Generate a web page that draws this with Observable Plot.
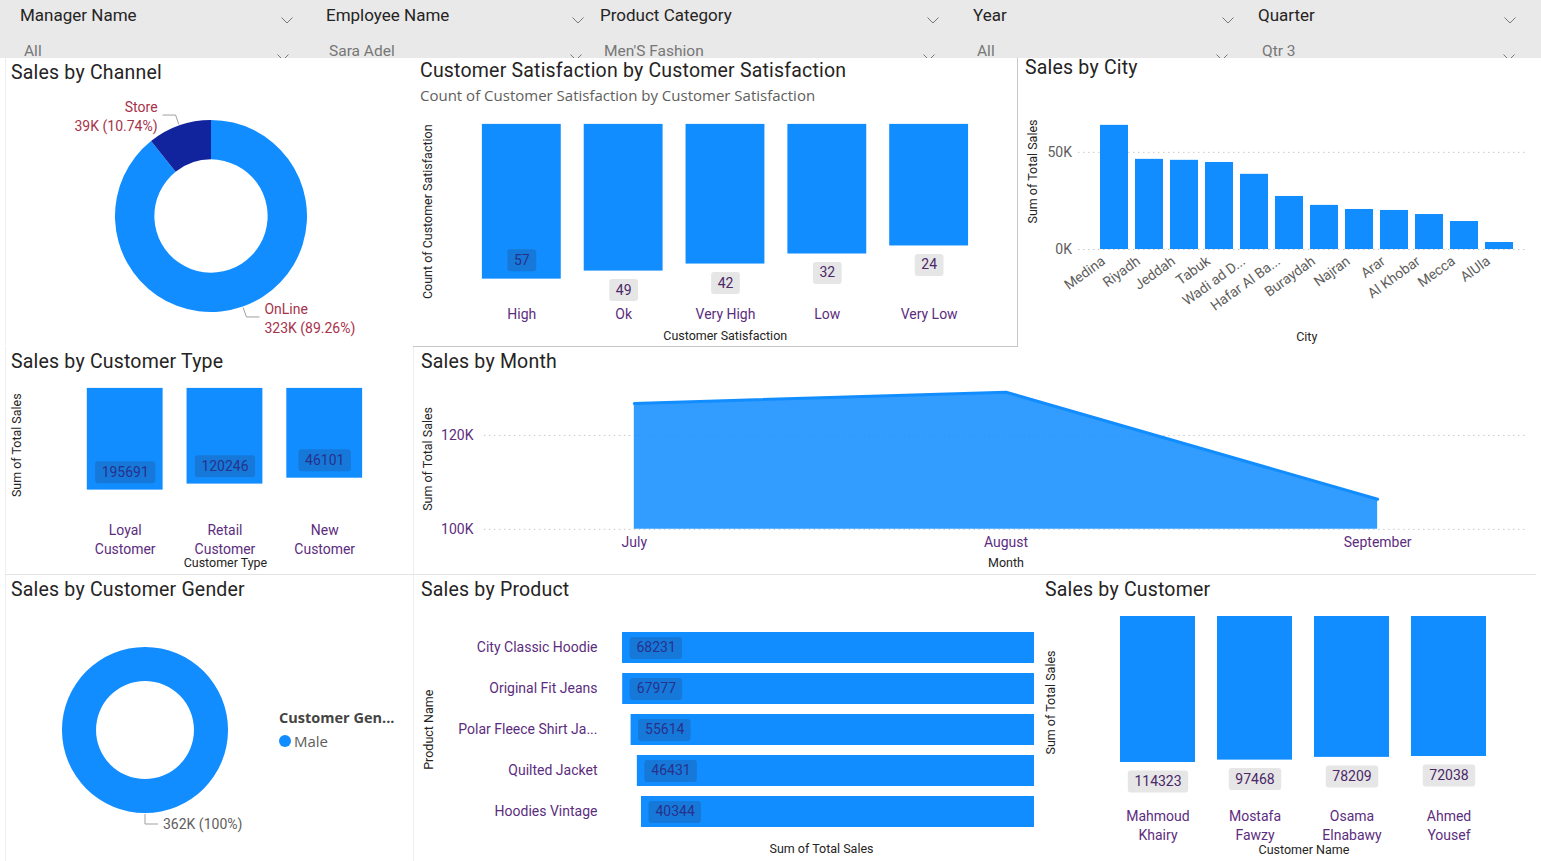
<!DOCTYPE html>
<html><head><meta charset="utf-8">
<script src="https://cdn.jsdelivr.net/npm/d3@7"></script>
<script src="https://cdn.jsdelivr.net/npm/@observablehq/plot@0.6"></script>
<style>
body{margin:0;width:1541px;height:861px;background:#fff;font-family:Roboto,sans-serif;overflow:hidden;position:relative}
.bar{position:absolute;left:0;top:0;width:1541px;height:58px;background:#e9e9e9}
.fh{position:absolute;font-size:17px;color:#252423;line-height:17px;white-space:nowrap}
.fv{position:absolute;font-size:15.5px;color:#777;line-height:15px;white-space:nowrap}
.chev{position:absolute;width:12px;height:7px}
.panel{position:absolute;background:#fff}
.panel svg{position:absolute;left:0;top:0;overflow:visible}
.title{position:absolute;font-size:19.5px;line-height:19px;color:#252423;white-space:nowrap;z-index:2;letter-spacing:0.2px}
.sub{position:absolute;font-size:15px;line-height:15px;color:#605e5c;white-space:nowrap;z-index:2;font-family:"Open Sans"}
</style>
</head><body>
<div class="bar"></div>
<script>
// ---------- data ----------
const filterNames = ["Manager Name", "Employee Name", "Product Category", "Year", "Quarter"];
const filterValues = ["All", "Sara Adel", "Men'S Fashion", "All", "Qtr 3"];

const channelNames = ["OnLine", "Store"];
const channelSales = [323100, 38880];

const satLevels = ["High", "Ok", "Very High", "Low", "Very Low"];
const satCounts = [57, 49, 42, 32, 24];

const cities = ["Medina", "Riyadh", "Jeddah", "Tabuk", "Wadi ad D...", "Hafar Al Ba...", "Buraydah", "Najran", "Arar", "Al Khobar", "Mecca", "AlUla"];
const citySales = [63900, 46400, 45900, 44800, 38700, 27300, 22700, 20600, 20100, 18000, 14400, 3600];
const cityTicks = [0, 50000];

const customerTypes = ["Loyal Customer", "Retail Customer", "New Customer"];
const customerTypeSales = [195691, 120246, 46101];

const months = ["July", "August", "September"];
const monthSales = [126800, 129200, 106400];
const monthTicks = [100000, 120000];

const genders = ["Male"];
const genderSales = [362000];

const products = ["City Classic Hoodie", "Original Fit Jeans", "Polar Fleece Shirt Ja...", "Quilted Jacket", "Hoodies Vintage"];
const productSales = [68231, 67977, 55614, 46431, 40344];

const customers = ["Mahmoud Khairy", "Mostafa Fawzy", "Osama Elnabawy", "Ahmed Yousef"];
const customerSales = [114323, 97468, 78209, 72038];

// ---------- helpers ----------
const BLUE = "#118DFF", NAVY = "#12239E", PURPLE = "#5c2d7e", DARK = "#252423", GREY = "#605e5c";
const FONT = "Roboto";
const fmtK = v => Math.round(v / 1000) + "K";
const fmtPct = p => d3.format(".2%")(p).replace(/\.?0+%$/, "%");
const zip = (keys, vals, k1, k2) => keys.map((k, i) => ({[k1]: k, [k2]: vals[i]}));

function el(tag, cls, parent, css) {
  const e = document.createElement(tag); if (cls) e.className = cls;
  Object.assign(e.style, css || {}); (parent || document.body).appendChild(e); return e;
}
function chevron(x, y) {
  const d = el("div", "chev", null, {left: x + "px", top: y + "px"});
  d.innerHTML = '<svg width="12" height="7" viewBox="0 0 12 7" style="overflow:visible"><path d="M0.5 0.5L6 6L11.5 0.5" fill="none" stroke="#777" stroke-width="1"/></svg>';
}
function panel(left, top, w, h, css) {
  return el("div", "panel", null, Object.assign({left: left + "px", top: top + "px", width: w + "px", height: h + "px"}, css || {}));
}
function title(p, text, x, cy, cls = "title") {
  const t = el("div", cls, p, {left: x + "px", top: (cy - 9.5) + "px"}); t.textContent = text; return t;
}
function yTitle(text, dx, dy) {
  return Plot.text([text], {frameAnchor: "left", textAnchor: "middle", lineAnchor: "middle", rotate: -90, dx, dy,
    fontSize: 12.5, fill: DARK, fontFamily: FONT});
}
function xTitle(text, dy, dx = 0) {
  return Plot.text([text], {frameAnchor: "bottom", textAnchor: "middle", lineAnchor: "middle", dx, dy,
    fontSize: 12.5, fill: DARK, fontFamily: FONT});
}
function roundRect(w, h, r = 3) {
  return {draw(ctx) {
    const x0 = -w / 2, y0 = -h / 2, x1 = w / 2, y1 = h / 2;
    ctx.moveTo(x0 + r, y0); ctx.lineTo(x1 - r, y0); ctx.arcTo(x1, y0, x1, y0 + r, r);
    ctx.lineTo(x1, y1 - r); ctx.arcTo(x1, y1, x1 - r, y1, r); ctx.lineTo(x0 + r, y1); ctx.arcTo(x0, y1, x0, y1 - r, r);
    ctx.lineTo(x0, y0 + r); ctx.arcTo(x0, y0, x0 + r, y0, r); ctx.closePath();
  }};
}
// data labels drawn as text on a rounded box, like Power BI's label backgrounds
function valueLabels(data, {x, y, text, dx = 0, dy = 0, start = false, inside = false}) {
  const marks = [];
  for (const [n, group] of d3.groups(data, d => text(d).length)) {
    const w = n * 7.9 + 13;
    marks.push(Plot.dot(group, {x, y, dx: start ? dx + w / 2 - 7 : dx, dy, symbol: roundRect(w, 22),
      fill: inside ? "#1679da" : "#e6e6e6", stroke: "none"}));
  }
  marks.push(Plot.text(data, {x, y, text, dx, dy, textAnchor: start ? "start" : "middle", fontSize: 14, fontFamily: FONT,
    fill: inside ? "#28318a" : "#4b2868"}));
  return marks;
}
const baseStyle = {fontFamily: FONT, background: "transparent", overflow: "visible"};

function donut(data, opts) {
  return (index, scales, values, dim) => {
    const iw = dim.width - dim.marginLeft - dim.marginRight;
    const ih = dim.height - dim.marginTop - dim.marginBottom;
    const cx = dim.marginLeft + iw / 2, cy = dim.marginTop + ih / 2, r = Math.min(iw, ih) / 2;
    const total = d3.sum(data, d => d.value);
    const arcs = d3.pie().sort(null).value(d => d.value)(data);
    const g = d3.create("svg:g").attr("transform", `translate(${cx},${cy})`);
    const arc = d3.arc().innerRadius(r * opts.inner).outerRadius(r);
    g.selectAll("path.slice").data(arcs).join("path").attr("class", "slice").attr("d", arc).attr("fill", (d, i) => opts.colors[i]);
    for (const a of arcs) {
      const m = (a.startAngle + a.endAngle) / 2, sx = Math.sin(m), sy = -Math.cos(m);
      const side = sx > -1e-6 ? 1 : -1;
      const x0 = sx * (r + 1), y0 = sy * (r + 1), x1 = sx * (r + 11), y1 = sy * (r + 11), x2 = x1 + side * 13;
      g.append("path").attr("d", `M${x0},${y0}L${x1},${y1}L${x2},${y1}`).attr("fill", "none").attr("stroke", "#a19f9d");
      const valText = fmtK(a.data.value) + " (" + fmtPct(a.data.value / total) + ")";
      const lines = opts.showName ? [a.data.name, valText] : [valText];
      const t = g.append("text").attr("fill", opts.labelColor).attr("font-size", 14).attr("font-family", FONT)
        .attr("text-anchor", side > 0 ? "start" : "end");
      lines.forEach((s, i) => t.append("tspan").attr("x", x2 + side * 5)
        .attr("y", y1 + (lines.length === 1 ? 5 : (i === 0 ? -3 : 16))).text(s));
    }
    return g.node();
  };
}

// ---------- filter bar ----------
const fhX = [20, 326, 600, 973, 1258], fvX = [24, 329, 604, 977, 1262];
const chH = [281, 572, 927, 1222, 1504], chV = [277, 570, 923, 1216, 1503];
filterNames.forEach((n, i) => {
  const h = el("div", "fh", null, {left: fhX[i] + "px", top: "7px"}); h.textContent = n;
  const v = el("div", "fv", null, {left: fvX[i] + "px", top: "44px"}); v.textContent = filterValues[i];
  chevron(chH[i], 9); chevron(chV[i], 46);
});

// ---------- Sales by Channel ----------
{
  const p = panel(5, 58, 408, 287, {borderLeft: "1px solid #eeeeee"});
  const data = channelNames.map((n, i) => ({name: n, value: channelSales[i]}));
  p.appendChild(Plot.plot({width: 408, height: 287, marginLeft: 109, marginRight: 107, marginTop: 62, marginBottom: 33,
    style: baseStyle, marks: [donut(data, {colors: [BLUE, NAVY], inner: 0.59, labelColor: "#a8324a", showName: true})]}));
  title(p, "Sales by Channel", 5, 14);
}

// ---------- Customer Satisfaction ----------
{
  const p = panel(413, 58, 605, 289, {borderRight: "1px solid #c8c6c4", borderBottom: "1px solid #c8c6c4", boxSizing: "border-box"});
  const data = zip(satLevels, satCounts, "level", "count");
  const satBase = -97, maxCount = d3.max(satCounts);
  const txt = d => String(d.count);
  p.appendChild(Plot.plot({width: 605, height: 289, marginLeft: 45, marginRight: 25.5, marginTop: 66, marginBottom: 68,
    style: baseStyle,
    x: {domain: satLevels, padding: 0.227},
    y: {domain: [satBase, maxCount], reverse: true, axis: null},
    marks: [
      Plot.barY(data, {x: "level", y1: satBase, y2: "count", fill: BLUE}),
      ...valueLabels(data.filter(d => d.count === maxCount), {x: "level", y: "count", text: txt, dy: -19, inside: true}),
      ...valueLabels(data.filter(d => d.count !== maxCount), {x: "level", y: "count", text: txt, dy: 19}),
      Plot.axisX({tickSize: 0, tickPadding: 30, fontSize: 14, color: PURPLE, label: null, fontFamily: FONT}),
      xTitle("Customer Satisfaction", 57),
      yTitle("Count of Customer Satisfaction", -30, 10)
    ]}));
  title(p, "Customer Satisfaction by Customer Satisfaction", 7, 12);
  title(p, "Count of Customer Satisfaction by Customer Satisfaction", 7, 39, "sub");
}

// ---------- Sales by City ----------
{
  const p = panel(1018, 58, 518, 289);
  const data = zip(cities, citySales, "city", "sales");
  p.appendChild(Plot.plot({width: 518, height: 289, marginLeft: 71.5, marginRight: 13, marginTop: 55, marginBottom: 98,
    style: baseStyle,
    x: {domain: cities, padding: 0.21},
    y: {domain: [0, 70000]},
    marks: [
      Plot.ruleY(cityTicks, {stroke: "#c8c8c8", strokeDasharray: "1.5,3.5", insetLeft: -11.5, insetRight: -4}),
      Plot.barY(data, {x: "city", y: "sales", fill: BLUE}),
      Plot.axisY({ticks: cityTicks, tickFormat: fmtK, tickSize: 0, tickPadding: 18, fontSize: 14, color: GREY, label: null, fontFamily: FONT}),
      Plot.axisX({tickRotate: -36, tickSize: 0, tickPadding: 10, dx: -11, fontSize: 14, color: GREY, label: null, fontFamily: FONT}),
      xTitle("City", 87),
      yTitle("Sum of Total Sales", -57.5, -10)
    ]}));
  title(p, "Sales by City", 7, 9);
}

// ---------- Sales by Customer Type ----------
{
  const p = panel(5, 347, 408, 228, {borderLeft: "1px solid #eeeeee", borderBottom: "1px solid #e3e3e3", boxSizing: "border-box"});
  const data = zip(customerTypes, customerTypeSales, "type", "sales");
  const base = -1080000;
  p.appendChild(Plot.plot({width: 408, height: 228, marginLeft: 56, marginRight: 25, marginTop: 41, marginBottom: 85,
    style: baseStyle,
    x: {domain: customerTypes, padding: 0.238},
    y: {domain: [base, 196000], reverse: true, axis: null},
    marks: [
      Plot.barY(data, {x: "type", y1: base, y2: "sales", fill: BLUE}),
      ...valueLabels(data, {x: "type", y: "sales", text: d => String(d.sales), dy: -18, inside: true}),
      Plot.axisX({tickSize: 0, tickPadding: 31, fontSize: 14, lineHeight: 1.36, color: PURPLE, label: null, fontFamily: FONT,
        tickFormat: d => d.replace(" ", "\n")}),
      xTitle("Customer Type", 73),
      yTitle("Sum of Total Sales", -45, 6)
    ]}));
  title(p, "Sales by Customer Type", 5, 14);
}

// ---------- Sales by Month ----------
{
  const p = panel(413, 347, 1123, 228, {borderBottom: "1px solid #e3e3e3", borderLeft: "1px solid #eeeeee", boxSizing: "border-box"});
  const data = zip(months, monthSales, "month", "sales");
  p.appendChild(Plot.plot({width: 1123, height: 228, marginLeft: 70, marginRight: 9, marginTop: 41, marginBottom: 46,
    style: baseStyle,
    x: {type: "point", domain: months, padding: 0.4},
    y: {domain: [monthTicks[0], 130000]},
    marks: [
      Plot.ruleY(monthTicks, {stroke: "#c8c8c8", strokeDasharray: "1.5,3.5"}),
      Plot.areaY(data, {x: "month", y1: monthTicks[0], y2: "sales", fill: BLUE, fillOpacity: 0.86}),
      Plot.lineY(data, {x: "month", y: "sales", stroke: BLUE, strokeWidth: 3}),
      Plot.axisY({ticks: monthTicks, tickFormat: fmtK, tickSize: 0, tickPadding: 11, fontSize: 14, color: PURPLE, label: null, fontFamily: FONT}),
      Plot.axisX({tickSize: 0, tickPadding: 8, fontSize: 14, color: PURPLE, label: null, fontFamily: FONT}),
      xTitle("Month", 34),
      yTitle("Sum of Total Sales", -56, 0)
    ]}));
  title(p, "Sales by Month", 7, 14);
}

// ---------- Sales by Customer Gender ----------
{
  const p = panel(5, 575, 408, 286, {borderLeft: "1px solid #eeeeee"});
  const data = genders.map((n, i) => ({name: n, value: genderSales[i]}));
  p.appendChild(Plot.plot({width: 408, height: 286, marginLeft: 56, marginRight: 186, marginTop: 72, marginBottom: 48,
    style: baseStyle, marks: [donut(data, {colors: [BLUE], inner: 0.59, labelColor: GREY, showName: false})]}));
  title(p, "Sales by Customer Gender", 5, 14);
  const lt = el("div", null, p, {position: "absolute", left: "273px", top: "133px", fontSize: "14.5px", fontWeight: "bold", color: "#444", fontFamily: "Open Sans", whiteSpace: "nowrap"});
  lt.textContent = "Customer Gen...";
  genders.forEach((g, i) => {
    el("div", null, p, {position: "absolute", left: "273px", top: (160 + i * 20) + "px", width: "12px", height: "12px", borderRadius: "6px", background: BLUE});
    const t = el("div", null, p, {position: "absolute", left: "288px", top: (156 + i * 20) + "px", fontSize: "15px", color: GREY, fontFamily: "Open Sans"});
    t.textContent = g;
  });
}

// ---------- Sales by Product ----------
{
  const p = panel(413, 575, 625, 286, {borderLeft: "1px solid #eeeeee"});
  const data = zip(products, productSales, "product", "sales");
  const base = -537000;
  p.appendChild(Plot.plot({width: 625, height: 286, marginLeft: 208, marginRight: 5, marginTop: 46, marginBottom: 23.5,
    style: baseStyle,
    y: {domain: products, padding: 0.248},
    x: {domain: [base, d3.max(productSales)], reverse: true, axis: null},
    marks: [
      Plot.barX(data, {y: "product", x1: base, x2: "sales", fill: BLUE}),
      ...valueLabels(data, {y: "product", x: "sales", text: d => String(d.sales), dx: 14, start: true, inside: true}),
      Plot.axisY({tickSize: 0, tickPadding: 25, fontSize: 14, color: PURPLE, label: null, fontFamily: FONT}),
      xTitle("Sum of Total Sales", 10.5, -7),
      yTitle("Product Name", -194, 0)
    ]}));
  title(p, "Sales by Product", 7, 14);
}

// ---------- Sales by Customer ----------
{
  const p = panel(1038, 575, 498, 286);
  const data = zip(customers, customerSales, "customer", "sales");
  const base = -915000;
  p.appendChild(Plot.plot({width: 498, height: 286, marginLeft: 58.8, marginRight: 26, marginTop: 41, marginBottom: 99,
    style: baseStyle,
    x: {domain: customers, padding: 0.227},
    y: {domain: [base, d3.max(customerSales)], reverse: true, axis: null},
    marks: [
      Plot.barY(data, {x: "customer", y1: base, y2: "sales", fill: BLUE}),
      ...valueLabels(data, {x: "customer", y: "sales", text: d => String(d.sales), dy: 19}),
      Plot.axisX({tickSize: 0, tickPadding: 45, fontSize: 14, lineHeight: 1.36, color: PURPLE, label: null, fontFamily: FONT,
        tickFormat: d => d.replace(" ", "\n")}),
      xTitle("Customer Name", 87),
      yTitle("Sum of Total Sales", -46, 13)
    ]}));
  title(p, "Sales by Customer", 7, 14);
}
</script>
</body></html>
